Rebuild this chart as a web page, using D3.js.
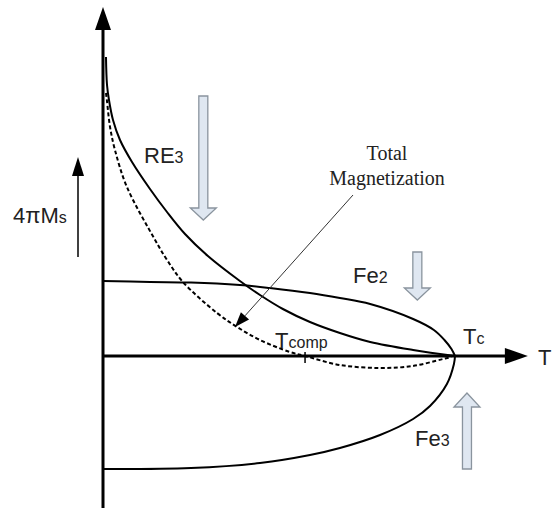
<!DOCTYPE html>
<html>
<head>
<meta charset="utf-8">
<script src="https://cdn.jsdelivr.net/npm/d3@7"></script>
<style>
  html, body { margin: 0; padding: 0; background: #fff; }
  svg { display: block; }
</style>
</head>
<body>
<svg id="chart" width="553" height="508"></svg>
<script>
// Reduced temperature T/Tc and sublattice magnetization (arbitrary units)
const re3T   = [0.0085, 0.0114, 0.017, 0.0284, 0.0483, 0.0824, 0.1335, 0.1818, 0.233, 0.298, 0.389, 0.446, 0.511, 0.588, 0.673, 0.759, 0.881, 1.0];
const re3M   = [299, 271, 256, 236, 216, 194, 167, 144, 122, 100, 75, 61, 47, 34, 23, 14, 6, 0];

const fe2T   = [0, 0.134, 0.25, 0.389, 0.474, 0.588, 0.673, 0.759, 0.881, 0.94, 0.97, 0.99, 1.0];
const fe2M   = [75, 74, 73.5, 71, 68, 63, 58, 52, 37, 26, 16, 7, 0];

const fe3T   = [0, 0.25, 0.446, 0.588, 0.673, 0.787, 0.881, 0.929, 0.977, 0.997, 1.0];
const fe3M   = [-113, -112, -107, -99, -92, -79, -63, -50, -28, -8, 0];

const totalT = [0.0085, 0.011, 0.02, 0.034, 0.068, 0.148, 0.182, 0.227, 0.324, 0.381, 0.446, 0.531, 0.574, 0.673, 0.787, 0.88, 0.966, 0.99];
const totalM = [263, 256, 229, 206, 169, 116, 96, 74, 43, 29, 16, 4, 0, -9, -12, -10, -3, -1];

const tComp = 0.574;
const tCurie = 1.0;

const svg = d3.select("#chart");
const W = 553, H = 508;

const x = d3.scaleLinear().domain([0, 1]).range([103, 455]);
const y = d3.scaleLinear().domain([0, 100]).range([356, 256]);

const sans = "'Liberation Sans', Arial, sans-serif";
const serif = "'Liberation Serif', 'Times New Roman', serif";

const zip = (ts, ms) => ts.map((t, i) => [t, ms[i]]);
const line = d3.line().x(d => x(d[0])).y(d => y(d[1])).curve(d3.curveCatmullRom.alpha(0.5));

// Axes with arrowheads
const x0 = x(0), y0 = y(0);
const xEnd = x(1.207), yTop = y(349);
svg.append("line").attr("x1", x0).attr("y1", H).attr("x2", x0).attr("y2", yTop + 20)
  .attr("stroke", "#000").attr("stroke-width", 3);
svg.append("path").attr("d", `M${x0},${yTop} L${x0 - 8},${yTop + 23} L${x0 + 8},${yTop + 23} Z`).attr("fill", "#000");
svg.append("line").attr("x1", x0).attr("y1", y0).attr("x2", xEnd - 20).attr("y2", y0)
  .attr("stroke", "#000").attr("stroke-width", 3);
svg.append("path").attr("d", `M${xEnd},${y0} L${xEnd - 23},${y0 - 8} L${xEnd - 23},${y0 + 8} Z`).attr("fill", "#000");

// Sublattice curves
[[re3T, re3M], [fe2T, fe2M], [fe3T, fe3M]].forEach(([ts, ms]) => {
  svg.append("path").datum(zip(ts, ms)).attr("d", line)
    .attr("fill", "none").attr("stroke", "#000").attr("stroke-width", 2);
});

// Total magnetization (dashed)
svg.append("path").datum(zip(totalT, totalM)).attr("d", line)
  .attr("fill", "none").attr("stroke", "#000").attr("stroke-width", 2)
  .attr("stroke-dasharray", "4,2.5");

// Compensation point tick
svg.append("line").attr("x1", x(tComp)).attr("x2", x(tComp))
  .attr("y1", y0 - 4).attr("y2", y0 + 7).attr("stroke", "#000").attr("stroke-width", 1.5);

// Hollow block arrows showing sublattice moment directions
const blockArrows = [
  { t: 0.285, from: 260, headAt: 148, to: 136 },
  { t: 0.893, from: 104, headAt: 68, to: 56 },
  { t: 1.034, from: -113, headAt: -51, to: -37 }
];
blockArrows.forEach(a => {
  const cx = x(a.t), ys = y(a.from), yh = y(a.headAt), yt = y(a.to);
  const sw = 4.5, hw = 13;
  const p = `M${cx - sw},${ys} L${cx + sw},${ys} L${cx + sw},${yh} L${cx + hw},${yh} L${cx},${yt} L${cx - hw},${yh} L${cx - sw},${yh} Z`;
  svg.append("path").attr("d", p).attr("fill", "#dfe7f1")
    .attr("stroke", "#8a949e").attr("stroke-width", 1.3).attr("stroke-linejoin", "miter");
});

// 4πMs direction arrow
svg.append("line").attr("x1", 78).attr("x2", 78).attr("y1", 257).attr("y2", 172)
  .attr("stroke", "#000").attr("stroke-width", 1.5);
svg.append("path").attr("d", "M78,157 L72,176 L84,176 Z").attr("fill", "#000");

// Labels with subscripts
function label(px, py, main, sub, size, subSize) {
  const t = svg.append("text").attr("x", px).attr("y", py)
    .attr("font-family", sans).attr("font-size", size).attr("fill", "#222");
  t.append("tspan").text(main);
  if (sub) t.append("tspan").attr("font-size", subSize).text(sub);
}
label(13, 223, "4πM", "s", 22, 16);
label(144, 163, "RE", "3", 22, 16);
label(353, 283, "Fe", "2", 22, 16);
label(415, 446, "Fe", "3", 22, 16);
label(x(tCurie) + 8, 344, "T", "c", 22, 16);
label(x(tComp) - 30, 348, "T", "comp", 22, 16);
label(538, 365, "T", null, 22, 16);

// Total magnetization callout
svg.append("text").attr("x", 387).attr("y", 160).attr("text-anchor", "middle")
  .attr("font-family", serif).attr("font-size", 20).attr("fill", "#222").text("Total");
svg.append("text").attr("x", 387).attr("y", 185).attr("text-anchor", "middle")
  .attr("font-family", serif).attr("font-size", 20).attr("fill", "#222").text("Magnetization");

const px1 = 353, py1 = 195, px2 = 235, py2 = 327;
const ang = Math.atan2(py2 - py1, px2 - px1);
const hl = 15, hwid = 5.5;
const bx = px2 - hl * Math.cos(ang), by = py2 - hl * Math.sin(ang);
svg.append("line").attr("x1", px1).attr("y1", py1).attr("x2", bx).attr("y2", by)
  .attr("stroke", "#333").attr("stroke-width", 1);
svg.append("path")
  .attr("d", `M${px2},${py2} L${bx + hwid * Math.sin(ang)},${by - hwid * Math.cos(ang)} L${bx - hwid * Math.sin(ang)},${by + hwid * Math.cos(ang)} Z`)
  .attr("fill", "#000");
</script>
</body>
</html>
